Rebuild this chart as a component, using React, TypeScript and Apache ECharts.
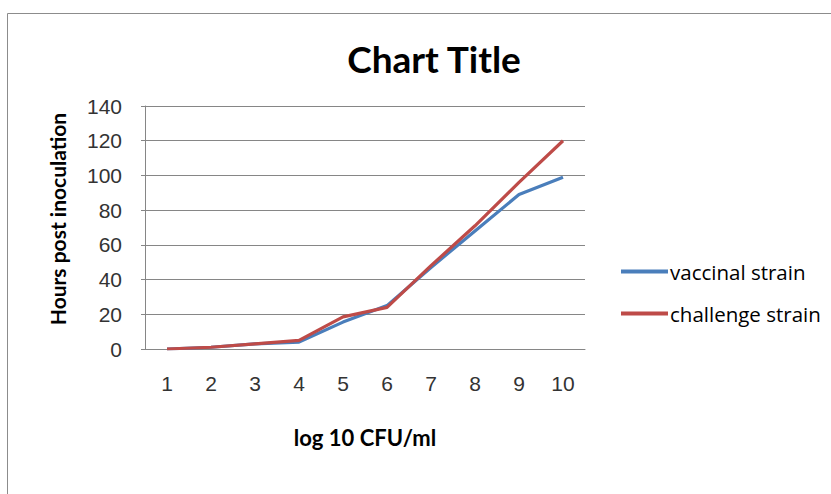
import React, { useEffect, useRef } from "react";
import * as echarts from "echarts";

const categories = ["1", "2", "3", "4", "5", "6", "7", "8", "9", "10"];
const vaccinalStrain = [0, 1, 3, 4, 15.5, 25, 47, 68, 89, 99];
const challengeStrain = [0, 1, 3, 5, 18.5, 24, 48, 71, 96, 120];
const seriesNames = ["vaccinal strain", "challenge strain"];

export default function App() {
  const ref = useRef<HTMLDivElement>(null);
  useEffect(() => {
    if (!ref.current) return;
    const chart = echarts.init(ref.current, null, { renderer: "svg" });
    const axisGray = "#868686";
    chart.setOption({
      animation: false,
      backgroundColor: "#ffffff",
      graphic: [
        {
          type: "rect",
          shape: { x: 7.5, y: 13.5, width: 840, height: 500 },
          style: { fill: "none", stroke: "#8c8c8c", lineWidth: 1 },
          silent: true,
        },
        {
          type: "text",
          x: 57,
          y: 219,
          rotation: Math.PI / 2,
          style: {
            text: "Hours post inoculation",
            fontFamily: "Lato",
            fontWeight: "bold",
            fontSize: 21,
            fill: "#000",
            align: "center",
            verticalAlign: "middle",
          },
          silent: true,
        },
      ],
      title: {
        text: "Chart Title",
        left: 429,
        textAlign: "center",
        top: 35,
        textStyle: { fontFamily: "Lato", fontWeight: "bold", fontSize: 37, color: "#000" },
      },
      legend: {
        orient: "vertical",
        left: 621,
        top: 261,
        padding: 0,
        itemWidth: 47,
        itemHeight: 4,
        itemGap: 21,
        icon: "rect",
        data: seriesNames,
        textStyle: { fontFamily: "Open Sans", fontSize: 20.5, color: "#000", padding: [0, 0, 0, -3] },
      },
      grid: { left: 145, right: 246, top: 106, bottom: 145, containLabel: false },
      xAxis: {
        type: "category",
        data: categories,
        boundaryGap: true,
        name: "log 10 CFU/ml",
        nameLocation: "middle",
        nameGap: 77,
        nameTextStyle: { fontFamily: "Lato", fontWeight: "bold", fontSize: 22, color: "#000" },
        axisLine: { show: true, lineStyle: { color: axisGray, width: 1 } },
        axisTick: { show: false },
        axisLabel: { margin: 24, fontFamily: "Liberation Sans", fontSize: 21, color: "#333" },
      },
      yAxis: {
        type: "value",
        min: 0,
        max: 140,
        interval: 20,
        axisLine: { show: true, lineStyle: { color: axisGray, width: 1 } },
        axisTick: { show: true, length: 4, lineStyle: { color: axisGray } },
        axisLabel: { margin: 23, fontFamily: "Liberation Sans", fontSize: 21, color: "#333" },
        splitLine: { show: true, lineStyle: { color: axisGray, width: 1 } },
      },
      series: [
        {
          name: seriesNames[0],
          type: "line",
          data: vaccinalStrain,
          showSymbol: false,
          symbol: "none",
          lineStyle: { color: "#4a7ebb", width: 3.2 },
          itemStyle: { color: "#4a7ebb" },
        },
        {
          name: seriesNames[1],
          type: "line",
          data: challengeStrain,
          showSymbol: false,
          symbol: "none",
          lineStyle: { color: "#be4b48", width: 3.2 },
          itemStyle: { color: "#be4b48" },
        },
      ],
    });
    return () => chart.dispose();
  }, []);
  return (
    <div
      ref={ref}
      style={{ position: "fixed", left: 0, top: 0, width: 831, height: 494 }}
    />
  );
}
